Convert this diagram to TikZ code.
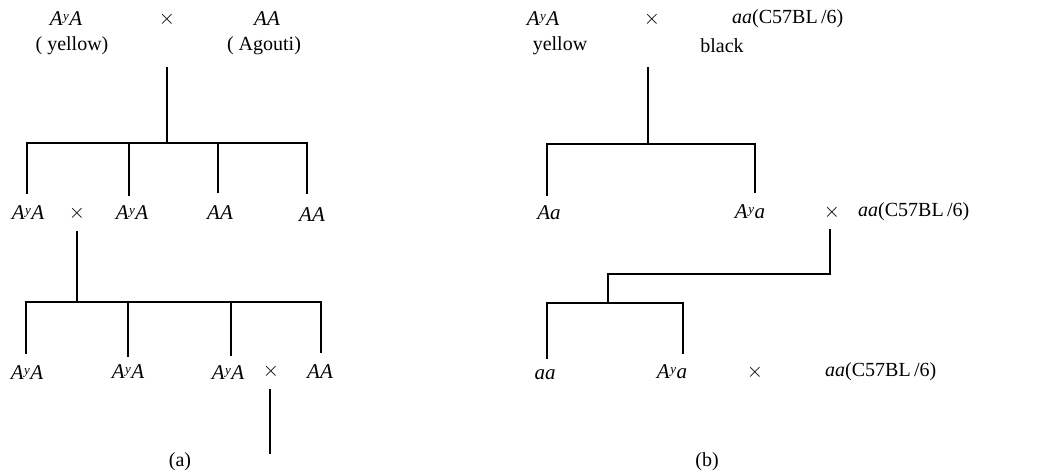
\documentclass[tikz,border=0pt]{standalone}
\usepackage{fontspec}
\setmainfont{Liberation Serif}
\begin{document}
\begin{tikzpicture}[x=1pt,y=-1pt,
  lbl/.style={inner sep=0pt,font=\fontsize{20}{22}\selectfont},
  gen/.style={lbl,font=\fontsize{21}{22}\selectfont\itshape},
  crs/.style={lbl,font=\fontsize{21}{22}\selectfont},
  ln/.style={line width=1.4pt,line cap=rect}]
\useasboundingbox (0,0) rectangle (1039,475);
\newcommand{\Ay}{A\kern0.5pt\raisebox{0.55ex}{\fontsize{13}{13}\selectfont y}\kern0.5pt}
% ---------- panel (a) ----------
\node[gen] (a1) at (66,19) {\Ay A};
\node[crs] (ax1) at (167,19) {$\times$};
\node[gen] (a2) at (267,19) {AA};
\node[lbl] (ay) at (72,46) {( yellow)};
\node[lbl] (ag) at (264,46) {( Agouti)};
\coordinate (aT1) at (167,68);
\coordinate (aJ1) at (167,143);
\coordinate (aL1) at (27,143);
\coordinate (aR1) at (307,143);
\coordinate (aM1) at (129,143);
\coordinate (aN1) at (218,143);
\coordinate (ad1) at (27,193);
\coordinate (ad2) at (129,195);
\coordinate (ad3) at (218,192);
\coordinate (ad4) at (307,193);
\draw[ln] (aT1) -- (aJ1);
\draw[ln] (aL1) -- (aR1);
\draw[ln] (aL1) -- (ad1);
\draw[ln] (aM1) -- (ad2);
\draw[ln] (aN1) -- (ad3);
\draw[ln] (aR1) -- (ad4);
\node[gen] (b1) at (28,213) {\Ay A};
\node[crs] (bx) at (77,213) {$\times$};
\node[gen] (b2) at (132,213) {\Ay A};
\node[gen] (b3) at (220,213) {AA};
\node[gen] (b4) at (312,215) {AA};
\coordinate (aT2) at (77,232);
\coordinate (aJ2) at (77,302);
\coordinate (aL2) at (26,302);
\coordinate (aR2) at (321,302);
\coordinate (aM2) at (128,302);
\coordinate (aN2) at (231,302);
\coordinate (ae1) at (26,353);
\coordinate (ae2) at (128,356);
\coordinate (ae3) at (231,355);
\coordinate (ae4) at (321,352);
\draw[ln] (aT2) -- (aJ2);
\draw[ln] (aL2) -- (aR2);
\draw[ln] (aL2) -- (ae1);
\draw[ln] (aM2) -- (ae2);
\draw[ln] (aN2) -- (ae3);
\draw[ln] (aR2) -- (ae4);
\node[gen] (c1) at (27,373) {\Ay A};
\node[gen] (c2) at (128,372) {\Ay A};
\node[gen] (c3) at (228,373) {\Ay A};
\node[crs] (cx) at (271,371) {$\times$};
\node[gen] (c4) at (320,372) {AA};
\coordinate (aT3) at (270,390);
\coordinate (aB3) at (270,453);
\draw[ln] (aT3) -- (aB3);
\node[lbl] (capa) at (180,462) {(a)};
% ---------- panel (b) ----------
\node[gen] (p1) at (543,19) {\Ay A};
\node[crs] (px) at (652,19) {$\times$};
\node[lbl,anchor=west] (p2) at (732,19) {\textit{aa}(C57BL\,/6)};
\node[lbl] (py) at (560,46) {yellow};
\node[lbl] (pb) at (722,46) {black};
\coordinate (bT1) at (648,68);
\coordinate (bJ1) at (648,144);
\coordinate (bL1) at (547,144);
\coordinate (bR1) at (755,144);
\coordinate (bd1) at (547,195);
\coordinate (bd2) at (755,192);
\draw[ln] (bT1) -- (bJ1);
\draw[ln] (bL1) -- (bR1);
\draw[ln] (bL1) -- (bd1);
\draw[ln] (bR1) -- (bd2);
\node[gen] (q1) at (549,213) {Aa};
\node[gen] (q2) at (750,212) {\Ay a};
\node[crs] (qx) at (832,212) {$\times$};
\node[lbl,anchor=west] (q3) at (858,212) {\textit{aa}(C57BL\,/6)};
\coordinate (bT2) at (830,230);
\coordinate (bK2) at (830,274);
\coordinate (bJ2) at (608,274);
\coordinate (bJ3) at (608,303);
\coordinate (bL3) at (547,303);
\coordinate (bR3) at (683,303);
\coordinate (be1) at (547,358);
\coordinate (be2) at (683,353);
\draw[ln] (bT2) -- (bK2) -- (bJ2) -- (bJ3);
\draw[ln] (bL3) -- (bR3);
\draw[ln] (bL3) -- (be1);
\draw[ln] (bR3) -- (be2);
\node[gen] (r1) at (545,375) {aa};
\node[gen] (r2) at (672,372) {\Ay a};
\node[crs] (rx) at (755,372) {$\times$};
\node[lbl,anchor=west] (r3) at (825,372) {\textit{aa}(C57BL\,/6)};
\node[lbl] (capb) at (707,462) {(b)};
\end{tikzpicture}
\end{document}
